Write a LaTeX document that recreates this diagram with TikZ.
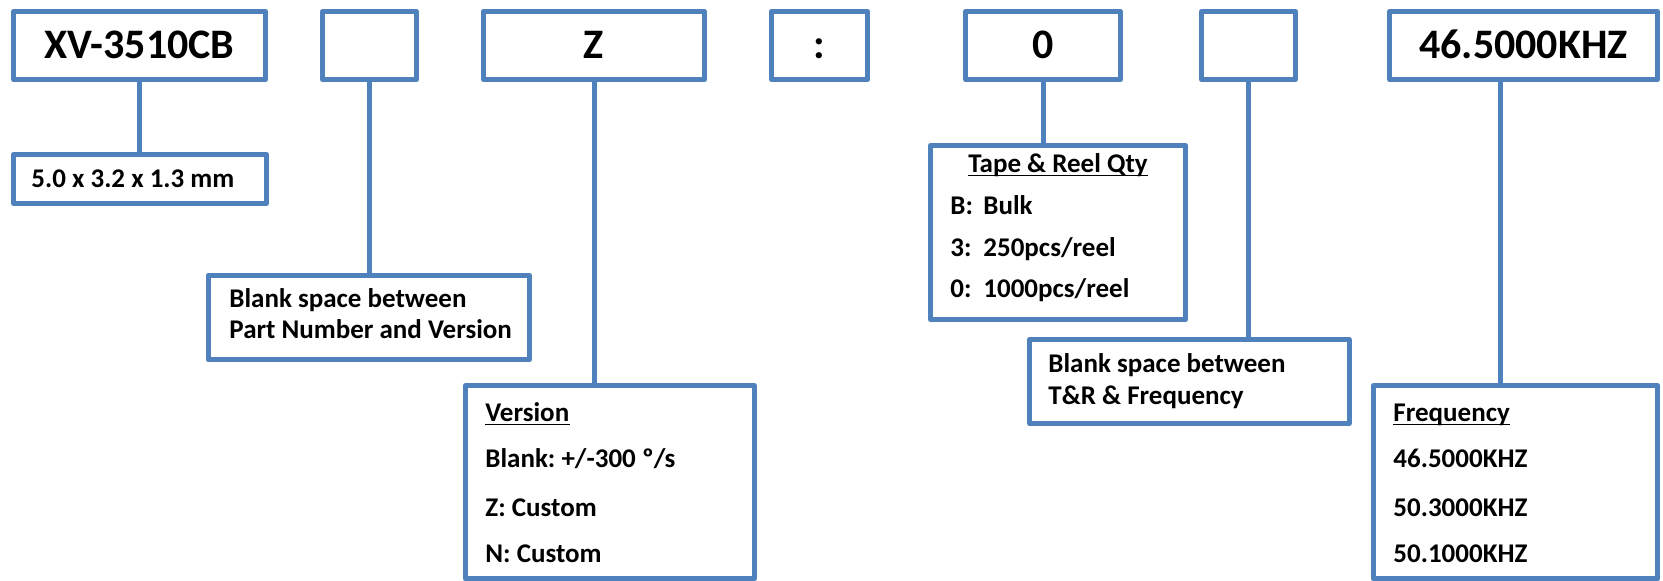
\documentclass[tikz,border=0pt]{standalone}
\usepackage{fontspec}
\setmainfont{Carlito}
\frenchspacing
\definecolor{boxblue}{RGB}{79,129,189}
\begin{document}
\begin{tikzpicture}[x=0.5pt,y=-0.5pt,
  box/.style={draw=boxblue, line width=2.5pt, rectangle, inner sep=0pt, fill=white, line join=round},
  conn/.style={draw=boxblue, line width=2.5pt},
  big/.style={font=\fontsize{21pt}{25pt}\selectfont\bfseries, text height=13.5pt, text depth=0pt},
  txt/.style={font=\fontsize{13.5pt}{16pt}\selectfont\bfseries, inner sep=0pt, anchor=base west},
  ttl/.style={font=\fontsize{13.5pt}{16pt}\selectfont\bfseries, inner sep=0pt, anchor=base},
  uline/.style={draw=black, line width=0.6pt},
]
\useasboundingbox (0,0) rectangle (1663,581);
\fill[white] (0,0) rectangle (1663,581);

% top row
\node[box, big, minimum width=126pt, minimum height=34pt] (xv) at (139.5,45.5) {XV-3510CB};
\node[box, big, minimum width=47pt, minimum height=34pt] (b1) at (369.5,45.5) {};
\node[box, big, minimum width=110.5pt, minimum height=34pt] (z) at (594,45.5) {Z};
\node[box, big, minimum width=48pt, minimum height=34pt] (colon) at (819.5,45.5) {:};
\node[box, big, minimum width=77.5pt, minimum height=34pt] (zero) at (1043,45.5) {0};
\node[box, big, minimum width=47pt, minimum height=34pt] (b2) at (1248.5,45.5) {};
\node[box, big, minimum width=134pt, minimum height=34pt] (freq) at (1523.5,45.5) {46.5000KHZ};

% lower boxes
\node[box, minimum width=126.5pt, minimum height=24.5pt] (size) at (140,179) {};
\node[box, minimum width=160.75pt, minimum height=42pt] (blankA) at (368.75,317.5) {};
\node[box, minimum width=144.25pt, minimum height=96.75pt] (ver) at (609.75,482.25) {};
\node[box, minimum width=127.5pt, minimum height=87pt] (tr) at (1058,232.5) {};
\node[box, minimum width=159.75pt, minimum height=42pt] (blankB) at (1189.25,381.5) {};
\node[box, minimum width=142pt, minimum height=96.75pt] (fq) at (1515.5,482.25) {};

% connectors
\coordinate (c46) at (1500,0);
\draw[conn] (xv.south) -- (xv.south |- size.north);
\draw[conn] (b1.south) -- (b1.south |- blankA.north);
\draw[conn] (z.south) -- (z.south |- ver.north);
\draw[conn] (zero.south) -- (zero.south |- tr.north);
\draw[conn] (b2.south) -- (b2.south |- blankB.north);
\draw[conn] (freq.south -| c46) -- (c46 |- fq.north);

% texts
\node[txt] (sizet) at (31,188) {5.0 x 3.2 x 1.3 mm};

\node[txt] (ba1) at (229,308) {Blank space between};
\node[txt] (ba2) at (229,339) {Part Number and Version};

\node[txt] (v0) at (485,422) {Version};
\draw[uline] ([yshift=-1.4pt]v0.base west) -- ([yshift=-1.4pt]v0.base east);
\node[txt] (v1) at (485,468) {Blank: +/-300 º/s};
\node[txt] (v2) at (485,517) {Z: Custom};
\node[txt] (v3) at (485,563) {N: Custom};

\node[ttl] (t0) at (1058,173) {Tape \& Reel Qty};
\draw[uline] ([yshift=-1.4pt]t0.base west) -- ([yshift=-1.4pt]t0.base east);
\node[txt] (t1) at (950,215) {\makebox[16.5pt][l]{B:}Bulk};
\node[txt] (t2) at (950,257) {\makebox[16.5pt][l]{3:}250pcs/reel};
\node[txt] (t3) at (950,298) {\makebox[16.5pt][l]{0:}1000pcs/reel};

\node[txt] (bb1) at (1048,373) {Blank space between};
\node[txt] (bb2) at (1048,405) {T\&R \& Frequency};

\node[txt] (f0) at (1393,422) {Frequency};
\draw[uline] ([yshift=-1.4pt]f0.base west) -- ([yshift=-1.4pt]f0.base east);
\node[txt] (f1) at (1393,468) {46.5000KHZ};
\node[txt] (f2) at (1393,517) {50.3000KHZ};
\node[txt] (f3) at (1393,563) {50.1000KHZ};
\end{tikzpicture}
\end{document}
